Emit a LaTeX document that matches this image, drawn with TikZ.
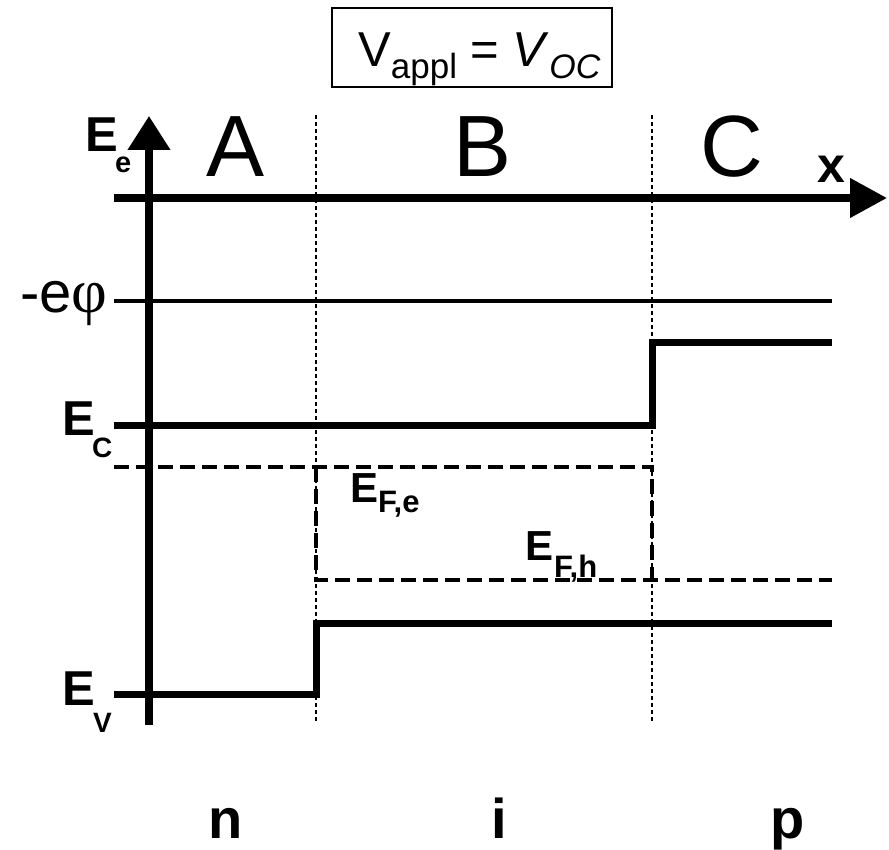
\documentclass[tikz,border=0pt]{standalone}
\usepackage{fontspec}
\setmainfont{Liberation Sans}
\newfontfamily\serifgr{Liberation Serif}
\usetikzlibrary{arrows.meta}
\newcommand{\fs}[1]{\fontsize{#1}{#1}\selectfont}
\begin{document}
\begin{tikzpicture}[x=1pt,y=-1pt,
  lbl/.style={inner sep=0pt,anchor=base west},
  lblc/.style={inner sep=0pt,anchor=base,text depth=0pt},
  axis/.style={line width=7.5pt},
  band/.style={line width=7pt,line join=miter},
  fermi/.style={line width=4.5pt,dash pattern=on 15pt off 7pt},
  border/.style={line width=2pt,dash pattern=on 4pt off 3pt},
  vac/.style={line width=4pt}]
\useasboundingbox[fill=white] (0,0) rectangle (889,850);
% title box
\node[draw,line width=1.5pt,minimum width=280pt,minimum height=79pt,inner sep=0pt] (title) at (472,47.5) {};
\node[lbl] (ttext) at (358,67) {\fs{49}V\raisebox{-12pt}{\fs{35}appl} = \textit{V}\raisebox{-12pt}{\fs{34}\itshape OC}};
% coordinates
\coordinate (ybot) at (149,725);
\coordinate (ytop) at (149,116);
\coordinate (xl) at (114,198);
\coordinate (xr) at (887,198);
% region borders (dotted)
\coordinate (d1t) at (316,115); \coordinate (d1b) at (316,722);
\coordinate (d2t) at (652,115); \coordinate (d2b) at (652,722);
\draw[border] (d1t) -- (d1b);
\draw[border] (d2t) -- (d2b);
% axes
\draw[axis,-{Triangle[length=34pt,width=41pt]}] (ybot) -- (ytop);
\draw[axis,-{Triangle[length=37pt,width=38pt]}] (xl) -- (xr);
% vacuum level
\coordinate (v1) at (114,301.5); \coordinate (v2) at (832,301.5);
\draw[vac] (v1) -- (v2);
% conduction band
\coordinate (c1) at (114,425.5); \coordinate (c2) at (652,425.5);
\coordinate (c3) at (652,343); \coordinate (c4) at (832,343);
\draw[band] (c1) -- (c2) -- (c3) -- (c4);
% valence band
\coordinate (e1) at (114,694); \coordinate (e2) at (316,694);
\coordinate (e3) at (316,623); \coordinate (e4) at (832,623);
\draw[band] (e1) -- (e2) -- (e3) -- (e4);
% quasi Fermi levels
\coordinate (f1) at (114,467); \coordinate (f2) at (652,467); \coordinate (f3) at (652,580);
\coordinate (h1) at (316,467); \coordinate (h2) at (316,580); \coordinate (h3) at (832,580);
\draw[fermi] (f1) -- (f2) -- (f3);
\draw[fermi] (h1) -- (h2) -- (h3);
% labels
\node[lbl] (Ee) at (85,152) {\fs{49}\bfseries E};
\node[lbl] (Ees) at (115,173) {\fs{29}\bfseries e};
\node[lbl] (phi) at (20,313) {\fs{58}-e{\serifgr\fs{62}φ}};
\node[lbl] (Ec) at (62,435) {\fs{49}\bfseries E};
\node[lbl] (Ecs) at (92,457) {\fs{28}\bfseries C};
\node[lbl] (Ev) at (62,705) {\fs{49}\bfseries E};
\node[lbl] (Evs) at (93,732) {\fs{28}\bfseries V};
\node[lbl] (Efe) at (350,502) {\fs{42}\bfseries E};
\node[lbl] (Efes) at (378,512) {\fs{31}\bfseries F,e};
\node[lbl] (Efh) at (525,560) {\fs{42}\bfseries E};
\node[lbl] (Efhs) at (554,577) {\fs{31}\bfseries F,h};
\node[lblc] (A) at (235.5,177) {\fs{87}A};
\node[lblc] (B) at (483,177) {\fs{87}B};
\node[lblc] (C) at (732,177) {\fs{87}C};
\node[lblc] (xlab) at (831,183) {\fs{50}\bfseries x};
\node[lblc] (n) at (226,838) {\fs{56}\bfseries n};
\node[lblc] (i) at (499,838) {\fs{56}\bfseries i};
\node[lblc] (p) at (788,838) {\fs{56}\bfseries p};
\end{tikzpicture}
\end{document}
